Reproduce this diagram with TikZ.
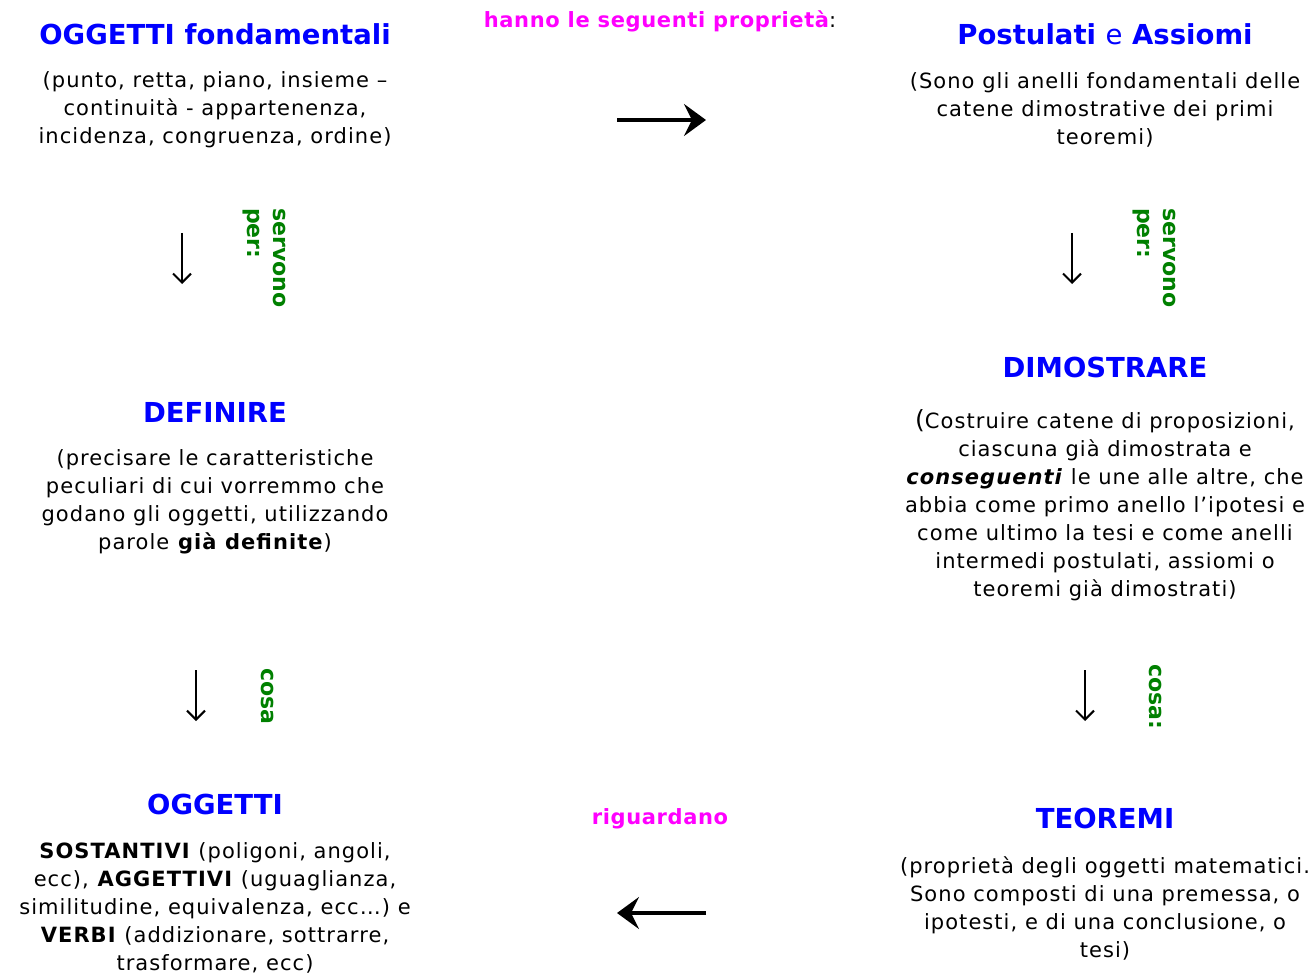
\documentclass[tikz,border=0pt]{standalone}
\usepackage{fontspec}
\setmainfont{DejaVu Sans}
\usetikzlibrary{arrows.meta}
\definecolor{titleblue}{RGB}{0,0,255}
\definecolor{linkpink}{RGB}{255,0,255}
\definecolor{verbgreen}{RGB}{0,128,0}
\begin{document}
\begin{tikzpicture}[
  x=1pt, y=-1pt,
  titlenode/.style={font=\fontsize{27.5}{30}\selectfont\bfseries, text=titleblue, inner sep=0pt},
  bodynode/.style={font=\fontsize{21}{28}\selectfont\addfontfeatures{LetterSpace=5}, align=center, inner sep=0pt},
  linknode/.style={font=\fontsize{21}{24}\selectfont\bfseries\addfontfeatures{LetterSpace=3}, text=linkpink, inner sep=0pt},
  verbnode/.style={font=\fontsize{22}{26}\selectfont\bfseries, text=verbgreen, rotate=-90, align=left, inner sep=0pt},
  bigarrow/.style={line width=4.5pt, -{Stealth[length=22pt, width=32pt, inset=8pt]}},
  downarrow/.style={line width=2pt, -{Straight Barb[length=9pt, width=18pt]}}
]
  \useasboundingbox (0,0) rectangle (1311,976);

  % top left
  \node[titlenode] (fond) at (215,34) {OGGETTI fondamentali};
  \node[bodynode] (fondtxt) at (215,110) {(punto, retta, piano, insieme --\\continuità - appartenenza,\\incidenza, congruenza, ordine)};

  % top right
  \node[titlenode] (post) at (1105,34) {Postulati {\mdseries e} Assiomi};
  \node[bodynode] (posttxt) at (1105,110) {(Sono gli anelli fondamentali delle\\catene dimostrative dei primi\\teoremi)};

  \node[linknode] (hanno) at (660,21) {hanno le seguenti proprietà{\color{black}\mdseries:}};
  \coordinate (hA) at (617,120);
  \coordinate (hB) at (706,120);
  \draw[bigarrow] (hA) -- (hB);

  % servono per
  \coordinate (sA) at (182,233);
  \coordinate (sB) at (182,284);
  \draw[downarrow] (sA) -- (sB);
  \node[verbnode, anchor=north west] (serv1) at (286,208) {servono\\per:};
  \coordinate (tA) at (1072,233);
  \coordinate (tB) at (1072,284);
  \draw[downarrow] (tA) -- (tB);
  \node[verbnode, anchor=north west] (serv2) at (1176,208) {servono\\per:};

  % middle
  \node[titlenode] (def) at (215,412) {DEFINIRE};
  \node[bodynode] (deftxt) at (215,502) {(precisare le caratteristiche\\peculiari di cui vorremmo che\\godano gli oggetti, utilizzando\\parole \textbf{già definite})};
  \node[titlenode] (dim) at (1105,367) {DIMOSTRARE};
  \node[bodynode] (dimtxt) at (1105,505) {{\fontsize{25}{28}\selectfont(}Costruire catene di proposizioni,\\ciascuna già dimostrata e\\\textbf{\itshape conseguenti} le une alle altre, che\\abbia come primo anello l’ipotesi e\\come ultimo la tesi e come anelli\\intermedi postulati, assiomi o\\teoremi già dimostrati)};

  % cosa
  \coordinate (cA) at (196,670);
  \coordinate (cB) at (196,721);
  \draw[downarrow] (cA) -- (cB);
  \node[verbnode, anchor=north west] (cosa1) at (274,668) {cosa};
  \coordinate (dA) at (1085,670);
  \coordinate (dB) at (1085,721);
  \draw[downarrow] (dA) -- (dB);
  \node[verbnode, anchor=north west] (cosa2) at (1162,664) {cosa:};

  % bottom
  \node[titlenode] (ogg) at (215,804) {OGGETTI};
  \node[bodynode] (oggtxt) at (215,908) {\textbf{SOSTANTIVI} (poligoni, angoli,\\ecc), \textbf{AGGETTIVI} (uguaglianza,\\similitudine, equivalenza, ecc…) e\\\textbf{VERBI} (addizionare, sottrarre,\\trasformare, ecc)};
  \node[titlenode] (teo) at (1105,818) {TEOREMI};
  \node[bodynode] (teotxt) at (1105,908) {(proprietà degli oggetti matematici.\\Sono composti di una premessa, o\\ipotesti, e di una conclusione, o\\tesi)};

  \node[linknode] (rig) at (660,819) {riguardano};
  \coordinate (rA) at (706,913);
  \coordinate (rB) at (617,913);
  \draw[bigarrow] (rA) -- (rB);
\end{tikzpicture}
\end{document}
